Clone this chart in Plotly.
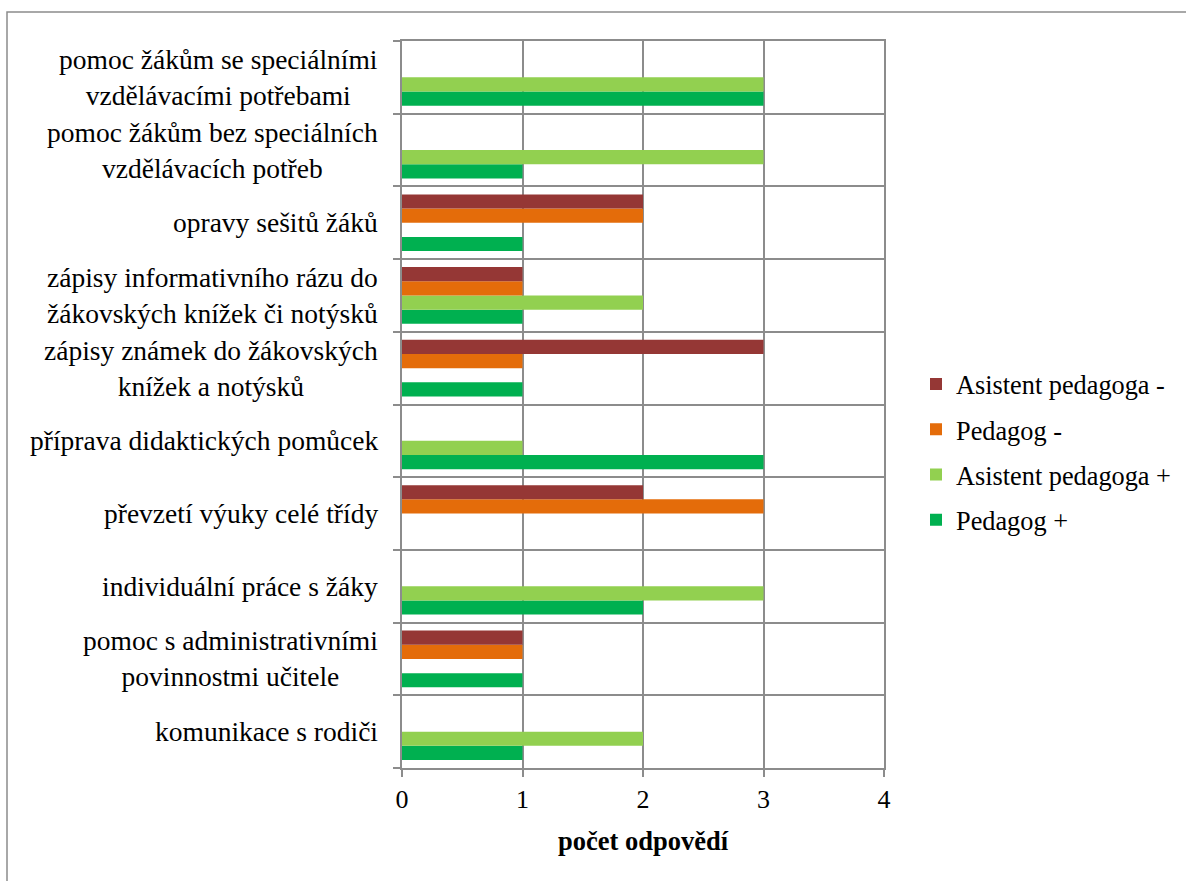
import plotly.graph_objects as go

categories = [
    "komunikace s rodiči",
    "pomoc s administrativními<br>povinnostmi učitele",
    "individuální práce s žáky",
    "převzetí výuky celé třídy",
    "příprava didaktických pomůcek",
    "zápisy známek do žákovských<br>knížek a notýsků",
    "zápisy informativního rázu do<br>žákovských knížek či notýsků",
    "opravy sešitů žáků",
    "pomoc žákům bez speciálních<br>vzdělávacích potřeb",
    "pomoc žákům se speciálními<br>vzdělávacími potřebami",
]
pedagog_plus = [1, 1, 2, 0, 3, 1, 1, 1, 1, 3]
asistent_plus = [2, 0, 3, 0, 1, 0, 2, 0, 3, 3]
pedagog_minus = [0, 1, 0, 3, 0, 1, 1, 2, 0, 0]
asistent_minus = [0, 1, 0, 2, 0, 3, 1, 2, 0, 0]

series = [
    ("Pedagog +", pedagog_plus, "#00B050"),
    ("Asistent pedagoga +", asistent_plus, "#92D050"),
    ("Pedagog -", pedagog_minus, "#E46C0A"),
    ("Asistent pedagoga -", asistent_minus, "#953735"),
]

W, H = 1186, 881
L, R, T, B = 402, 302, 41, 113
FONT = "Liberation Serif"
FS = 26
GRID = "#8C8C8C"

fig = go.Figure()
for i, (name, vals, col) in enumerate(series):
    fig.add_trace(go.Bar(
        y=categories, x=vals, name=name, orientation="h",
        marker=dict(color=col, line=dict(width=0)),
        legendgroup=f"g{i}", legendrank=1000 - i,
    ))

for c in categories:
    fig.add_annotation(
        x=0, xref="paper", y=c, yref="y", text=c, showarrow=False,
        xanchor="right", yanchor="middle", align="center", xshift=-22,
        font=dict(family=FONT, size=27.5, color="#000"),
    )

pw = W - L - R
ph = H - T - B
fig.add_shape(
    type="rect", xref="paper", yref="paper",
    x0=(7 - L) / pw, x1=(W + 5 - L) / pw,
    y0=-(H + 5 - T - ph) / ph, y1=1 + (T - 12) / ph,
    line=dict(color="#8C8C8C", width=1.5), layer="below",
)

fig.update_layout(
    width=W, height=H,
    margin=dict(l=L, r=R, t=T, b=B, autoexpand=False),
    plot_bgcolor="white", paper_bgcolor="white",
    barmode="group", bargap=0.22, bargroupgap=0,
    font=dict(family=FONT, size=FS, color="#000"),
    showlegend=True,
    legend=dict(
        x=(916 - L) / pw, y=1 - (452 - T) / ph, xanchor="left", yanchor="middle",
        traceorder="grouped", tracegroupgap=8,
        font=dict(family=FONT, size=26.3, color="#000"),
        itemwidth=30,
    ),
    xaxis=dict(
        range=[0, 4], dtick=1, tick0=0,
        showgrid=True, gridcolor=GRID, gridwidth=2,
        showline=True, linecolor=GRID, linewidth=2, mirror=True,
        ticks="outside", ticklen=7, tickcolor=GRID, tickwidth=2,
        zeroline=False,
        tickfont=dict(family=FONT, size=FS, color="#000"),
        title=dict(text="<b>počet odpovědí</b>", standoff=18,
                   font=dict(family=FONT, size=26.5, color="#000")),
    ),
    yaxis=dict(
        type="category", categoryorder="array", categoryarray=categories,
        tickson="boundaries", showticklabels=False,
        showgrid=True, gridcolor=GRID, gridwidth=2,
        showline=True, linecolor=GRID, linewidth=2, mirror=True,
        ticks="outside", ticklen=7, tickcolor=GRID, tickwidth=2,
    ),
)

fig.write_html("out.html")
